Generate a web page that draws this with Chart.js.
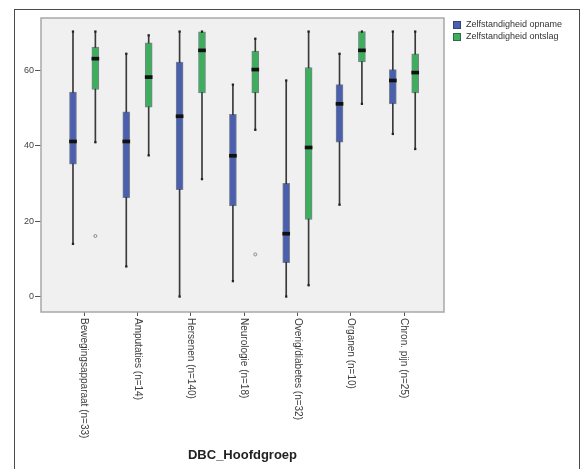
<!DOCTYPE html>
<html>
<head>
<meta charset="utf-8">
<script src="https://cdn.jsdelivr.net/npm/chart.js@4/dist/chart.umd.min.js"></script>
<style>
  html, body { margin: 0; padding: 0; background: #fff; }
  canvas { display: block; }
</style>
</head>
<body>
<canvas id="chart" width="582" height="469"></canvas>
<script>
// ─── Data ─────────────────────────────────────────────

const categories = [
    'Bewegingsapparaat (n=33)',
    'Amputaties (n=14)',
    'Hersenen (n=140)',
    'Neurologie (n=18)',
    'Overig/diabetes (n=32)',
    'Organen (n=10)',
    'Chron. pijn (n=25)',
];
const seriesNames = ['Zelfstandigheid opname', 'Zelfstandigheid ontslag'];
const yTicks = [0, 20, 40, 60];

// Zelfstandigheid opname
const opnameMin    = [14.0,  8.0,  0.0,  4.1,  0.0, 24.4, 43.2];
const opnameQ1     = [35.2, 26.3, 28.4, 24.1,  9.0, 41.0, 51.2];
const opnameMedian = [41.2, 41.2, 47.9, 37.4, 16.7, 51.2, 57.4];
const opnameQ3     = [54.3, 49.1, 62.3, 48.4, 30.1, 56.3, 60.3];
const opnameMax    = [70.4, 64.5, 70.4, 56.3, 57.4, 64.5, 70.4];

// Zelfstandigheid ontslag
const ontslagMin    = [41.0, 37.5, 31.2, 44.3,  3.0, 51.2, 39.2];
const ontslagQ1     = [55.0, 50.3, 54.1, 54.1, 20.5, 62.3, 54.1];
const ontslagMedian = [63.2, 58.3, 65.4, 60.3, 39.6, 65.4, 59.5];
const ontslagQ3     = [66.3, 67.4, 70.3, 65.2, 60.8, 70.4, 64.5];
const ontslagMax    = [70.4, 69.4, 70.4, 68.5, 70.4, 70.4, 70.4];

// outliers: [category index, value]
const ontslagOutliers = [[0, 16.1], [3, 11.2]];

// ─── Styling ──────────────────────────────────────────

const BLUE  = '#4a5fae';
const GREEN = '#3daf5c';
const SHIFT = 0.21;     // box offset from category center (axis units)
const FONT  = "'Liberation Sans', Arial, sans-serif";

// ─── Dataset builders ─────────────────────────────────

function _range(lo, hi, dx) {
    return lo.map((v, i) => ({ x: i + dx, y: [v, hi[i]] }));
}

function _medians(med, dx) {
    return med.map((v, i) => ({ x: i + dx, y: [v - 0.4, v + 0.4] }));
}

function _caps(min, max, dx) {
    return min.flatMap((v, i) => [{ x: i + dx, y: v }, { x: i + dx, y: max[i] }]);
}

function _seriesDatasets(min, q1, med, q3, max, dx, color) {
    return [
        {
            type: 'bar', data: _range(min, max, dx),
            backgroundColor: '#3a3a3a', barThickness: 1, order: 4,
        },
        {
            type: 'bar', data: _range(q1, q3, dx),
            backgroundColor: color, borderColor: 'rgba(30,40,60,0.55)',
            borderWidth: 1, borderSkipped: false, barThickness: 7, order: 3,
        },
        {
            type: 'bar', data: _medians(med, dx),
            backgroundColor: '#111', barThickness: 7, order: 2,
        },
        {
            type: 'scatter', data: _caps(min, max, dx),
            pointStyle: 'rect', pointRadius: 1.6, backgroundColor: '#222',
            borderWidth: 0, order: 1,
        },
    ];
}

const datasets = [
    ..._seriesDatasets(opnameMin, opnameQ1, opnameMedian, opnameQ3, opnameMax, -SHIFT, BLUE),
    ..._seriesDatasets(ontslagMin, ontslagQ1, ontslagMedian, ontslagQ3, ontslagMax, SHIFT, GREEN),
    {
        type: 'scatter',
        data: ontslagOutliers.map(([i, v]) => ({ x: i + SHIFT, y: v })),
        pointStyle: 'circle', pointRadius: 1.5,
        backgroundColor: 'rgba(0,0,0,0)', borderColor: '#8a8a8a', borderWidth: 1, order: 0,
    },
];

// ─── Plugins ──────────────────────────────────────────

const framePlugin = {
    id: 'frame',
    beforeDraw(chart) {
        const { ctx, chartArea: a } = chart;
        ctx.save();
        ctx.fillStyle = '#fff';
        ctx.fillRect(0, 0, chart.width, chart.height);
        ctx.strokeStyle = '#4a4a4a';
        ctx.lineWidth = 1;
        ctx.strokeRect(14.5, 9.5, 565, 480);
        ctx.fillStyle = '#f0f0f0';
        ctx.fillRect(a.left, a.top, a.right - a.left, a.bottom - a.top);
        ctx.restore();
    },
    afterDraw(chart) {
        const { ctx, chartArea: a } = chart;
        const xs = chart.scales.x;
        ctx.save();
        ctx.strokeStyle = '#a8a8a8';
        ctx.lineWidth = 1.5;
        ctx.strokeRect(a.left, a.top, a.right - a.left, a.bottom - a.top);

        // rotated category labels, reading top to bottom
        ctx.fillStyle = '#3c3c3c';
        ctx.font = `10px ${FONT}`;
        ctx.textAlign = 'left';
        ctx.textBaseline = 'middle';
        categories.forEach((label, i) => {
            ctx.save();
            ctx.translate(xs.getPixelForValue(i), a.bottom + 6);
            ctx.rotate(Math.PI / 2);
            ctx.fillText(label, 0, 0);
            ctx.restore();
        });

        // axis title
        ctx.fillStyle = '#222';
        ctx.font = `bold 13px ${FONT}`;
        ctx.textAlign = 'center';
        ctx.fillText('DBC_Hoofdgroep', (a.left + a.right) / 2, 455);

        // legend
        const colors = [BLUE, GREEN];
        ctx.font = `9px ${FONT}`;
        ctx.textAlign = 'left';
        seriesNames.forEach((name, k) => {
            const y = 25 + k * 12;
            ctx.fillStyle = colors[k];
            ctx.fillRect(453, y - 4, 8, 8);
            ctx.strokeStyle = 'rgba(30,40,60,0.5)';
            ctx.lineWidth = 1;
            ctx.strokeRect(453.5, y - 3.5, 7, 7);
            ctx.fillStyle = '#333';
            ctx.fillText(name, 466, y);
        });
        ctx.restore();
    },
};

// ─── Chart ────────────────────────────────────────────

new Chart(document.getElementById('chart').getContext('2d'), {
    data: { datasets },
    options: {
        responsive: false,
        animation: false,
        layout: { padding: { top: 18, right: 138, left: 0, bottom: 0 } },
        datasets: { bar: { grouped: false } },
        plugins: { legend: { display: false }, tooltip: { enabled: false } },
        scales: {
            x: {
                type: 'linear',
                offset: false,
                min: -0.81,
                max: 6.75,
                afterBuildTicks: s => { s.ticks = categories.map((_, i) => ({ value: i })); },
                afterFit: s => { s.height = 469 - 312; },
                grid: { offset: false, drawOnChartArea: false, tickLength: 4, color: '#555' },
                border: { display: false },
                ticks: { display: false },
            },
            y: {
                min: -4.1,
                max: 74,
                afterBuildTicks: s => { s.ticks = yTicks.map(v => ({ value: v })); },
                afterFit: s => { s.width = 41; },
                grid: { drawOnChartArea: false, tickLength: 6, color: '#555' },
                border: { display: false },
                ticks: {
                    color: '#444',
                    padding: 1,
                    font: { family: FONT, size: 9 },
                },
            },
        },
    },
    plugins: [framePlugin],
});
</script>
</body>
</html>
